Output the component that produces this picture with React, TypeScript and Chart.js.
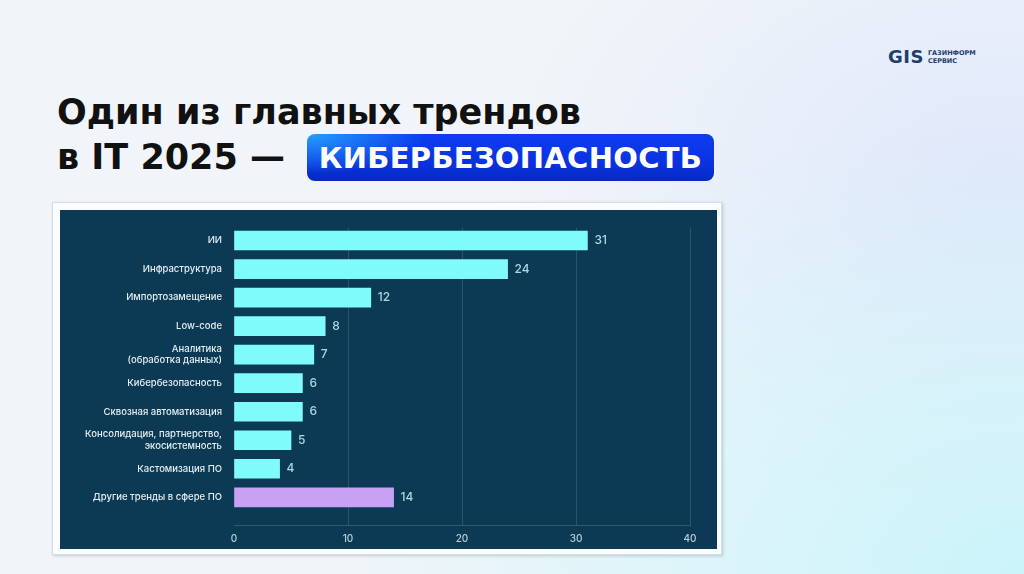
import React, { useEffect, useRef } from "react";
import { Chart, registerables } from "chart.js";

Chart.register(...registerables);

const categories: (string | string[])[] = [
  "ИИ",
  "Инфраструктура",
  "Импортозамещение",
  "Low-code",
  ["Аналитика", "(обработка данных)"],
  "Кибербезопасность",
  "Сквозная автоматизация",
  ["Консолидация, партнерство,", "экосистемность"],
  "Кастомизация ПО",
  "Другие тренды в сфере ПО",
];
const values = [31, 24, 12, 8, 7, 6, 6, 5, 4, 14];
const barColors = [
  "#80fbfb", "#80fbfb", "#80fbfb", "#80fbfb", "#80fbfb",
  "#80fbfb", "#80fbfb", "#80fbfb", "#80fbfb", "#c7a1f4",
];
const xTicks = [0, 10, 20, 30, 40];

const Y_MIN = -0.45;
const Y_MAX = 9.97;

const valueLabels = {
  id: "valueLabels",
  afterDatasetsDraw(chart: any) {
    const ctx = chart.ctx;
    const meta = chart.getDatasetMeta(0);
    ctx.save();
    ctx.font = "500 12px Inter, 'Noto Sans', sans-serif";
    ctx.fillStyle = "#a6dbe3";
    ctx.textAlign = "left";
    ctx.textBaseline = "middle";
    meta.data.forEach((bar: any, i: number) => {
      ctx.fillText(String(values[i]), bar.x + 7, bar.y);
    });
    ctx.restore();
  },
};

function BarChart() {
  const ref = useRef<HTMLCanvasElement>(null);
  useEffect(() => {
    if (!ref.current) return;
    const chart = new Chart(ref.current, {
      type: "bar",
      data: {
        datasets: [
          {
            data: values.map((v, i) => ({ x: v, y: i })),
            backgroundColor: barColors,
            borderWidth: 0,
            barThickness: 19,
          },
        ],
      },
      options: {
        indexAxis: "y",
        animation: false,
        responsive: false,
        layout: { padding: { left: 0, right: 27, top: 13, bottom: 0 } },
        plugins: { legend: { display: false }, tooltip: { enabled: false } },
        scales: {
          y: {
            type: "linear",
            reverse: true,
            offset: false,
            bounds: "data",
            min: Y_MIN,
            max: Y_MAX,
            afterBuildTicks: (scale: any) => {
              scale.min = Y_MIN;
              scale.max = Y_MAX;
              scale.ticks = categories.map((_, i) => ({ value: i }));
            },
            afterFit: (scale: any) => {
              scale.width = 174;
            },
            grid: { display: false, drawTicks: false, offset: false },
            border: { display: false },
            ticks: {
              autoSkip: false,
              padding: 12,
              color: "#e4edf1",
              font: { family: "Inter, 'Noto Sans', sans-serif", size: 9.5, weight: 500, lineHeight: 1.2 },
              callback: (v: any) => categories[v] ?? "",
            },
          },
          x: {
            type: "linear",
            min: 0,
            max: 40,
            afterBuildTicks: (scale: any) => {
              scale.ticks = xTicks.map((v) => ({ value: v }));
            },
            afterFit: (scale: any) => {
              scale.height = 24;
            },
            grid: {
              drawTicks: false,
              color: (c: any) => (c.tick && c.tick.value === 0 ? "rgba(0,0,0,0)" : "rgba(255,255,255,0.13)"),
              lineWidth: 1,
            },
            border: { display: true, color: "rgba(255,255,255,0.16)" },
            ticks: {
              padding: 8,
              color: "#b9d0da",
              font: { family: "Inter, 'Noto Sans', sans-serif", size: 10, weight: 500 },
            },
          },
        },
      },
      plugins: [valueLabels],
    });
    return () => chart.destroy();
  }, []);
  return <canvas ref={ref} width={657} height={339} style={{ display: "block", width: 657, height: 339 }} />;
}

export default function App() {
  return (
    <div
      style={{
        position: "fixed",
        left: 0,
        top: 0,
        width: 1024,
        height: 574,
        overflow: "hidden",
        fontFamily: "Roboto, 'Noto Sans', sans-serif",
        background:
          "radial-gradient(ellipse 700px 450px at 1024px 574px, rgba(200,244,250,0.95), rgba(200,244,250,0) 100%), radial-gradient(ellipse 500px 350px at 1000px 180px, rgba(222,230,250,0.9), rgba(222,230,250,0) 100%), #f1f5f9",
      }}
    >
      <div style={{ position: "absolute", left: 888, top: 46, display: "flex", alignItems: "center", color: "#233d6b" }}>
        <span style={{ fontWeight: 900, fontSize: 18, letterSpacing: 0.5, fontFamily: "'DejaVu Sans', sans-serif" }}>GIS</span>
        <span style={{ marginLeft: 4, fontSize: 6.5, fontWeight: 700, lineHeight: "8px", fontFamily: "'DejaVu Sans', sans-serif" }}>
          ГАЗИНФОРМ
          <br />
          СЕРВИС
        </span>
      </div>
      <div
        style={{
          position: "absolute",
          left: 57,
          top: 90,
          fontSize: 35,
          fontWeight: 700,
          fontFamily: "'DejaVu Sans', sans-serif",
          color: "#111",
          lineHeight: "45px",
          whiteSpace: "nowrap",
        }}
      >
        Один из главных трендов
        <br />в IT 2025 —
      </div>
      <div
        style={{
          position: "absolute",
          left: 307,
          top: 134,
          width: 407,
          height: 47,
          borderRadius: 8,
          background:
            "radial-gradient(ellipse 120px 40px at 0px 0px, rgba(40,170,255,0.9), rgba(40,170,255,0) 100%), linear-gradient(180deg, #0d3cf0 0%, #0a33e0 60%, #0629c2 100%)",
          color: "#fff",
          fontSize: 29,
          fontWeight: 700,
          fontFamily: "'DejaVu Sans', sans-serif",
          letterSpacing: 0.3,
          display: "flex",
          alignItems: "center",
          justifyContent: "center",
          whiteSpace: "nowrap",
        }}
      >
        КИБЕРБЕЗОПАСНОСТЬ
      </div>
      <div
        style={{
          position: "absolute",
          left: 52,
          top: 202,
          width: 668,
          height: 351,
          background: "#fbfcfd",
          border: "1px solid #d6dde4",
          boxShadow: "1px 1px 3px rgba(0,0,0,0.18)",
        }}
      />
      <div style={{ position: "absolute", left: 60, top: 210, width: 657, height: 339, background: "#0c3a54" }}>
        <BarChart />
      </div>
    </div>
  );
}
